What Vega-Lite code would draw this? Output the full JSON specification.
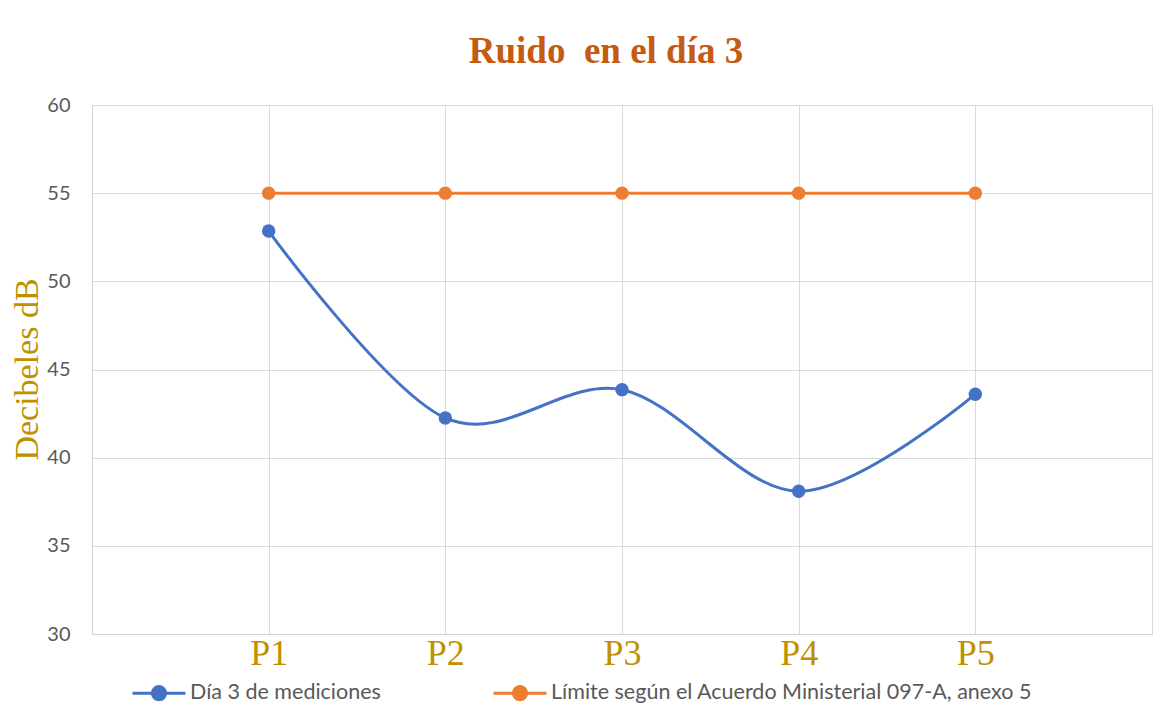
{
  "$schema": "https://vega.github.io/schema/vega-lite/v6.json",
  "width": 1060,
  "height": 529,
  "autosize": {"type": "none"},
  "padding": {"left": 92, "top": 105, "right": 21, "bottom": 87},
  "background": "white",
  "title": {"text": "Ruido \u00a0en el día 3", "font": "Liberation Serif", "fontSize": 37, "fontWeight": "bold", "color": "#C55A11", "offset": 24, "dx": -16, "anchor": "middle"},
  "data": {"values": [
    {"punto": "P1", "serie": "Día 3 de mediciones", "db": 52.85},
    {"punto": "P2", "serie": "Día 3 de mediciones", "db": 42.25},
    {"punto": "P3", "serie": "Día 3 de mediciones", "db": 43.85},
    {"punto": "P4", "serie": "Día 3 de mediciones", "db": 38.1},
    {"punto": "P5", "serie": "Día 3 de mediciones", "db": 43.6},
    {"punto": "P1", "serie": "Límite según el Acuerdo Ministerial 097-A, anexo 5", "db": 55},
    {"punto": "P2", "serie": "Límite según el Acuerdo Ministerial 097-A, anexo 5", "db": 55},
    {"punto": "P3", "serie": "Límite según el Acuerdo Ministerial 097-A, anexo 5", "db": 55},
    {"punto": "P4", "serie": "Límite según el Acuerdo Ministerial 097-A, anexo 5", "db": 55},
    {"punto": "P5", "serie": "Límite según el Acuerdo Ministerial 097-A, anexo 5", "db": 55}
  ]},
  "encoding": {
    "x": {"field": "punto", "type": "ordinal", "scale": {"type": "point", "padding": 1},
      "axis": {"title": null, "labelAngle": 0, "labelFont": "Liberation Serif", "labelFontSize": 36, "labelColor": "#BF9000", "labelPadding": 2, "ticks": false, "grid": true, "gridColor": "#D9D9D9", "domainColor": "#D0D0D0", "labelBaseline": "top"}},
    "y": {"field": "db", "type": "quantitative", "scale": {"domain": [30, 60], "nice": false, "zero": false},
      "axis": {"title": "Decibeles dB", "values": [30, 35, 40, 45, 50, 55, 60], "titleFont": "Liberation Serif", "titleFontSize": 34, "titleFontWeight": "normal", "titleColor": "#BF9000", "titleX": -65, "titleY": 264, "titleAngle": -90, "titleAlign": "center", "titleBaseline": "middle",
        "labelFont": "Lato", "labelFontSize": 20, "labelColor": "#595959", "labelPadding": 22, "ticks": false, "grid": true, "gridColor": "#D9D9D9", "domainColor": "#D0D0D0"}},
    "color": {"field": "serie", "type": "nominal",
      "scale": {"domain": ["Día 3 de mediciones", "Límite según el Acuerdo Ministerial 097-A, anexo 5"], "range": ["#4472C4", "#ED7D31"]},
      "legend": {"title": null, "orient": "none", "legendX": 39, "legendY": 560, "direction": "horizontal", "columns": 2, "columnPadding": 106,
        "labelFont": "Lato", "labelFontSize": 21.5, "labelColor": "#595959", "labelOffset": 3, "labelLimit": 0,
        "symbolType": "M-1,0L1,0M-0.25,0A0.25,0.25,0,1,1,0.25,0A0.25,0.25,0,1,1,-0.25,0Z", "symbolSize": 2800, "symbolStrokeWidth": 3, "symbolOffset": 0}}
  },
  "layer": [
    {"mark": {"type": "line", "interpolate": "cardinal", "strokeWidth": 3}},
    {"mark": {"type": "point", "filled": true, "size": 180, "opacity": 1}}
  ],
  "config": {
    "view": {"stroke": "#D9D9D9"},
    "font": "Lato"
  }
}
